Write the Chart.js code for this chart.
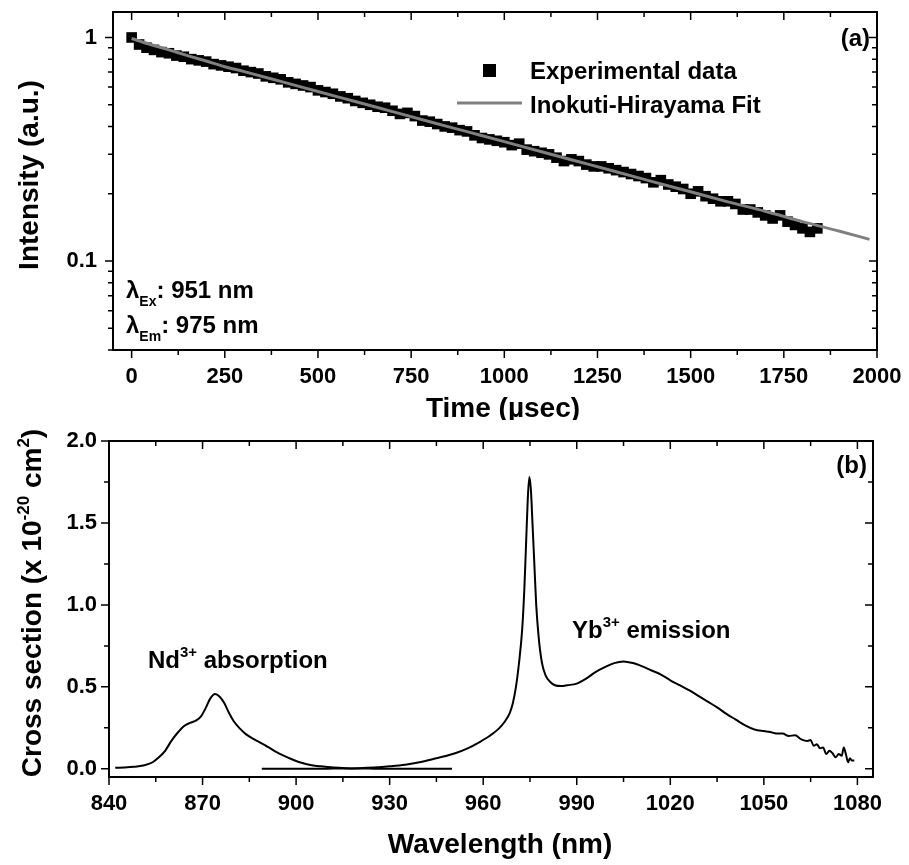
<!DOCTYPE html>
<html>
<head>
<meta charset="utf-8">
<script src="https://cdn.jsdelivr.net/npm/chart.js@4.4.1/dist/chart.umd.min.js"></script>
<style>
  body { margin: 0; background: #fff; }
  #wrap { position: relative; width: 909px; height: 865px; }
  canvas { position: absolute; left: 0; }
</style>
</head>
<body>
<div id="wrap">
  <canvas id="decayChart" width="909" height="420" style="top:0"></canvas>
  <canvas id="spectrumChart" width="909" height="445" style="top:420px"></canvas>
</div>
<script>
// ---- panel (a): decay curve ----
const decayTime = [0, 20, 40, 60, 80, 100, 120, 140, 160, 180, 200, 220, 240, 260, 280, 300, 320, 340, 360, 380,
  400, 420, 440, 460, 480, 500, 520, 540, 560, 580, 600, 620, 640, 660, 680, 700, 720, 740, 760, 780,
  800, 820, 840, 860, 880, 900, 920, 940, 960, 980, 1000, 1020, 1040, 1060, 1080, 1100, 1120, 1140, 1160, 1180,
  1200, 1220, 1240, 1260, 1280, 1300, 1320, 1340, 1360, 1380, 1400, 1420, 1440, 1460, 1480, 1500, 1520, 1540, 1560, 1580,
  1600, 1620, 1640, 1660, 1680, 1700, 1720, 1740, 1760, 1780, 1800, 1820, 1840];
const decayIntensity = [1.0, 0.93, 0.90, 0.88, 0.86, 0.85, 0.83, 0.82, 0.80, 0.79, 0.78, 0.76, 0.75, 0.74, 0.73, 0.71, 0.70, 0.69, 0.67, 0.66,
  0.65, 0.63, 0.62, 0.61, 0.60, 0.58, 0.57, 0.56, 0.545, 0.535, 0.52, 0.51, 0.50, 0.49, 0.485, 0.47, 0.455, 0.46, 0.445, 0.425,
  0.42, 0.41, 0.40, 0.395, 0.385, 0.38, 0.365, 0.355, 0.35, 0.345, 0.34, 0.33, 0.335, 0.315, 0.31, 0.305, 0.30, 0.29, 0.28, 0.285,
  0.28, 0.27, 0.265, 0.265, 0.26, 0.255, 0.25, 0.245, 0.24, 0.235, 0.225, 0.23, 0.22, 0.215, 0.21, 0.20, 0.205, 0.195, 0.19, 0.185,
  0.185, 0.18, 0.17, 0.17, 0.165, 0.16, 0.155, 0.16, 0.15, 0.145, 0.14, 0.135, 0.14];
const fitTime = [0, 50, 100, 150, 200, 250, 300, 400, 500, 600, 700, 800, 900, 1000, 1100, 1200, 1300, 1400, 1500, 1600, 1700, 1800, 1900, 1980];
const fitIntensity = [0.99, 0.93, 0.88, 0.83, 0.785, 0.74, 0.705, 0.636, 0.573, 0.517, 0.466, 0.42, 0.379, 0.342, 0.308, 0.278, 0.251, 0.226, 0.204, 0.184, 0.167, 0.150, 0.136, 0.125];
const timeTicks = [0, 250, 500, 750, 1000, 1250, 1500, 1750, 2000];
const intensityTicks = [0.04, 0.05, 0.06, 0.07, 0.08, 0.09, 0.1, 0.2, 0.3, 0.4, 0.5, 0.6, 0.7, 0.8, 0.9, 1];
const intensityLabels = [0.1, 1];

// ---- panel (b): cross sections ----
const absWavelength = [842, 845, 848, 851, 854, 856, 858, 860, 862, 864, 866, 868, 869.5, 871, 872.5, 874, 875.5, 877, 878.5, 880,
  882, 884, 887, 890, 893, 896, 899, 902, 905, 908, 912, 916, 920, 925, 930, 935, 940, 945, 950];
const absCross = [0.006, 0.008, 0.012, 0.02, 0.04, 0.07, 0.11, 0.17, 0.22, 0.26, 0.28, 0.295, 0.32, 0.37, 0.43, 0.457, 0.44, 0.40, 0.34, 0.29,
  0.245, 0.21, 0.175, 0.145, 0.11, 0.08, 0.055, 0.035, 0.022, 0.015, 0.008, 0.004, 0.002, 0.001, 0, 0, 0, 0, 0];
const emWavelength = [889, 895, 900, 905, 910, 915, 920, 925, 930, 935, 940, 944, 948, 951, 955, 959, 962, 965, 967, 968.5,
  969.5, 970.5, 971.5, 972.5, 973.2, 973.8, 974.3, 974.8, 975.3, 975.8, 976.4, 977, 977.8, 978.8, 980, 981.5, 983, 985, 987, 990,
  993, 996, 999, 1002, 1005, 1008, 1011, 1014, 1017, 1020, 1023, 1026, 1029, 1032, 1035, 1038, 1041, 1044, 1047, 1050,
  1052, 1054, 1056, 1058, 1060, 1062, 1064, 1065, 1066, 1067, 1068, 1069, 1070, 1071, 1072, 1073, 1074, 1075, 1075.6, 1076.3,
  1077, 1077.6, 1078.2, 1079];
const emCross = [0, 0, 0, 0, 0.001, 0.002, 0.004, 0.008, 0.015, 0.025, 0.042, 0.06, 0.078, 0.095, 0.125, 0.165, 0.2, 0.245, 0.29, 0.34,
  0.40, 0.50, 0.65, 0.85, 1.1, 1.4, 1.65, 1.78, 1.70, 1.5, 1.25, 1.0, 0.8, 0.65, 0.57, 0.53, 0.51, 0.505, 0.51, 0.52,
  0.55, 0.59, 0.62, 0.645, 0.655, 0.645, 0.625, 0.60, 0.575, 0.54, 0.51, 0.48, 0.445, 0.41, 0.375, 0.335, 0.30, 0.265, 0.24, 0.23,
  0.225, 0.215, 0.215, 0.20, 0.205, 0.18, 0.17, 0.175, 0.14, 0.15, 0.125, 0.13, 0.09, 0.11, 0.095, 0.07, 0.09, 0.08, 0.13, 0.09,
  0.04, 0.065, 0.05, 0.05];
const wavelengthTicks = [840, 870, 900, 930, 960, 990, 1020, 1050, 1080];
const crossTicks = [0, 0.5, 1.0, 1.5, 2.0];

const FONT = "'Liberation Sans', Arial, sans-serif";
const toPoints = (xs, ys) => xs.map((x, i) => ({ x: x, y: ys[i] }));
const midpoints = vals => vals.slice(1).map((v, i) => (v + vals[i]) / 2);
const isDecade = v => Math.abs(Math.log10(v) - Math.round(Math.log10(v))) < 1e-6;

// fixed axis box sizes, and no extra room for overhanging labels
const fixHeight = h => s => { s.height = h; s.paddingLeft = 0; s.paddingRight = 0; s.paddingTop = 0; s.paddingBottom = 0; };
const fixWidth = w => s => { s.width = w; s.paddingLeft = 0; s.paddingRight = 0; s.paddingTop = 0; s.paddingBottom = 0; };

// draws text pieces with sub/superscripts along one baseline
function drawRich(ctx, x, y, parts, align) {
  const setFont = p => { ctx.font = 'bold ' + p.size + 'px ' + FONT; };
  let total = 0;
  parts.forEach(p => { setFont(p); total += ctx.measureText(p.t).width; });
  let cx = align === 'center' ? x - total / 2 : align === 'right' ? x - total : x;
  ctx.textBaseline = 'alphabetic';
  ctx.textAlign = 'left';
  parts.forEach(p => {
    setFont(p);
    ctx.fillText(p.t, cx, y + (p.dy || 0));
    cx += ctx.measureText(p.t).width;
  });
}

// box frame + major/minor ticks: outward on left/bottom, inward on right/top
const framePlugin = {
  id: 'frame',
  afterDatasetsDraw(chart) {
    const { ctx, chartArea: a } = chart;
    const xs = chart.scales.x, ys = chart.scales.y;
    const xMajor = xs.ticks.map(t => t.value);
    const xMinor = midpoints(xMajor);
    let yMajor, yMinor;
    if (ys.type === 'logarithmic') {
      yMajor = ys.ticks.map(t => t.value).filter(isDecade);
      yMinor = ys.ticks.map(t => t.value).filter(v => !isDecade(v));
    } else {
      yMajor = ys.ticks.map(t => t.value);
      yMinor = midpoints(yMajor);
    }
    ctx.save();
    ctx.strokeStyle = '#000';
    ctx.lineWidth = 1.5;
    ctx.beginPath();
    const xt = (v, len) => {
      const p = xs.getPixelForValue(v);
      ctx.moveTo(p, a.bottom); ctx.lineTo(p, a.bottom + len);
      ctx.moveTo(p, a.top); ctx.lineTo(p, a.top + len);
    };
    const yt = (v, len) => {
      const p = ys.getPixelForValue(v);
      ctx.moveTo(a.left, p); ctx.lineTo(a.left - len, p);
      ctx.moveTo(a.right, p); ctx.lineTo(a.right - len, p);
    };
    xMajor.forEach(v => xt(v, 8));
    xMinor.forEach(v => xt(v, 5));
    yMajor.forEach(v => yt(v, 8));
    yMinor.forEach(v => yt(v, 5));
    ctx.stroke();
    ctx.lineWidth = 2;
    ctx.strokeRect(a.left, a.top, a.right - a.left, a.bottom - a.top);
    ctx.restore();
  }
};

// free text: axis titles, panel letters, legend, annotations
const notesPlugin = {
  id: 'notes',
  afterDraw(chart, args, opts) {
    const ctx = chart.ctx;
    ctx.save();
    ctx.fillStyle = '#000';
    (opts.items || []).forEach(it => {
      ctx.save();
      ctx.translate(it.x, it.y);
      if (it.rotate) ctx.rotate(-Math.PI / 2);
      drawRich(ctx, 0, 0, it.parts, it.align);
      ctx.restore();
    });
    if (opts.legend) opts.legend(ctx);
    ctx.restore();
  }
};

const tickFont = { family: FONT, size: 22, weight: 'bold' };

new Chart(document.getElementById('decayChart'), {
  type: 'line',
  data: {
    datasets: [
      {
        label: 'Inokuti-Hirayama Fit',
        data: toPoints(fitTime, fitIntensity),
        borderColor: '#808080',
        borderWidth: 3,
        pointRadius: 0,
        cubicInterpolationMode: 'monotone'
      },
      {
        label: 'Experimental data',
        data: toPoints(decayTime, decayIntensity),
        showLine: false,
        pointStyle: 'rect',
        pointRadius: 7.5,
        pointBackgroundColor: '#000',
        pointBorderWidth: 0
      }
    ]
  },
  plugins: [framePlugin, notesPlugin],
  options: {
    responsive: false,
    devicePixelRatio: 1,
    animation: false,
    layout: { padding: { left: 0, top: 12, right: 32, bottom: 0 } },
    scales: {
      x: {
        type: 'linear',
        min: -50,
        max: 2000,
        afterBuildTicks: s => { s.ticks = timeTicks.map(v => ({ value: v })); },
        afterFit: fixHeight(70),
        grid: { display: false, drawTicks: false },
        border: { display: false },
        ticks: { font: tickFont, color: '#000', padding: 14, maxRotation: 0, autoSkip: false, callback: v => String(v) }
      },
      y: {
        type: 'logarithmic',
        min: 0.04,
        max: 1.3,
        afterBuildTicks: s => { s.ticks = intensityTicks.map(v => ({ value: v })); },
        afterFit: fixWidth(113),
        grid: { display: false, drawTicks: false },
        border: { display: false },
        ticks: {
          font: tickFont, color: '#000', padding: 16, autoSkip: false,
          callback: v => intensityLabels.some(l => Math.abs(l - v) < 1e-9) ? String(v) : ''
        }
      }
    },
    plugins: {
      legend: { display: false },
      tooltip: { enabled: false },
      notes: {
        items: [
          { x: 38, y: 175, rotate: true, align: 'center', parts: [{ t: 'Intensity (a.u.)', size: 28 }] },
          { x: 503, y: 417, align: 'center', parts: [{ t: 'Time (\u00b5sec)', size: 28 }] },
          { x: 870, y: 46, align: 'right', parts: [{ t: '(a)', size: 24 }] },
          { x: 530, y: 79, align: 'left', parts: [{ t: 'Experimental data', size: 24 }] },
          { x: 530, y: 113, align: 'left', parts: [{ t: 'Inokuti-Hirayama Fit', size: 24 }] },
          { x: 126, y: 298, align: 'left', parts: [{ t: '\u03bb', size: 24 }, { t: 'Ex', size: 14, dy: 8 }, { t: ': 951 nm', size: 24 }] },
          { x: 126, y: 333, align: 'left', parts: [{ t: '\u03bb', size: 24 }, { t: 'Em', size: 14, dy: 8 }, { t: ': 975 nm', size: 24 }] }
        ],
        legend: ctx => {
          ctx.fillStyle = '#000';
          ctx.fillRect(483, 64, 13, 13);
          ctx.strokeStyle = '#808080';
          ctx.lineWidth = 3;
          ctx.beginPath();
          ctx.moveTo(457, 103);
          ctx.lineTo(522, 103);
          ctx.stroke();
        }
      }
    }
  }
});

new Chart(document.getElementById('spectrumChart'), {
  type: 'line',
  data: {
    datasets: [
      {
        label: 'Nd3+ absorption',
        data: toPoints(absWavelength, absCross),
        borderColor: '#000',
        borderWidth: 2,
        pointRadius: 0,
        cubicInterpolationMode: 'monotone'
      },
      {
        label: 'Yb3+ emission',
        data: toPoints(emWavelength, emCross),
        borderColor: '#000',
        borderWidth: 2,
        pointRadius: 0,
        cubicInterpolationMode: 'monotone'
      }
    ]
  },
  plugins: [framePlugin, notesPlugin],
  options: {
    responsive: false,
    devicePixelRatio: 1,
    animation: false,
    layout: { padding: { left: 0, top: 21, right: 36, bottom: 0 } },
    scales: {
      x: {
        type: 'linear',
        min: 840,
        max: 1085,
        afterBuildTicks: s => { s.ticks = wavelengthTicks.map(v => ({ value: v })); },
        afterFit: fixHeight(88),
        grid: { display: false, drawTicks: false },
        border: { display: false },
        ticks: { font: tickFont, color: '#000', padding: 14, maxRotation: 0, autoSkip: false, callback: v => String(v) }
      },
      y: {
        type: 'linear',
        min: -0.05,
        max: 2.0,
        afterBuildTicks: s => { s.ticks = crossTicks.map(v => ({ value: v })); },
        afterFit: fixWidth(109),
        grid: { display: false, drawTicks: false },
        border: { display: false },
        ticks: { font: tickFont, color: '#000', padding: 12, autoSkip: false, callback: v => v.toFixed(1) }
      }
    },
    plugins: {
      legend: { display: false },
      tooltip: { enabled: false },
      notes: {
        items: [
          { x: 41, y: 183, rotate: true, align: 'center', parts: [
            { t: 'Cross section (x 10', size: 28 }, { t: '-20', size: 17, dy: -12 },
            { t: ' cm', size: 28 }, { t: '2', size: 17, dy: -12 }, { t: ')', size: 28 }] },
          { x: 500, y: 433, align: 'center', parts: [{ t: 'Wavelength (nm)', size: 28 }] },
          { x: 867, y: 53, align: 'right', parts: [{ t: '(b)', size: 24 }] },
          { x: 148, y: 248, align: 'left', parts: [{ t: 'Nd', size: 24 }, { t: '3+', size: 15, dy: -11 }, { t: ' absorption', size: 24 }] },
          { x: 572, y: 218, align: 'left', parts: [{ t: 'Yb', size: 24 }, { t: '3+', size: 15, dy: -11 }, { t: ' emission', size: 24 }] }
        ]
      }
    }
  }
});
</script>
</body>
</html>
